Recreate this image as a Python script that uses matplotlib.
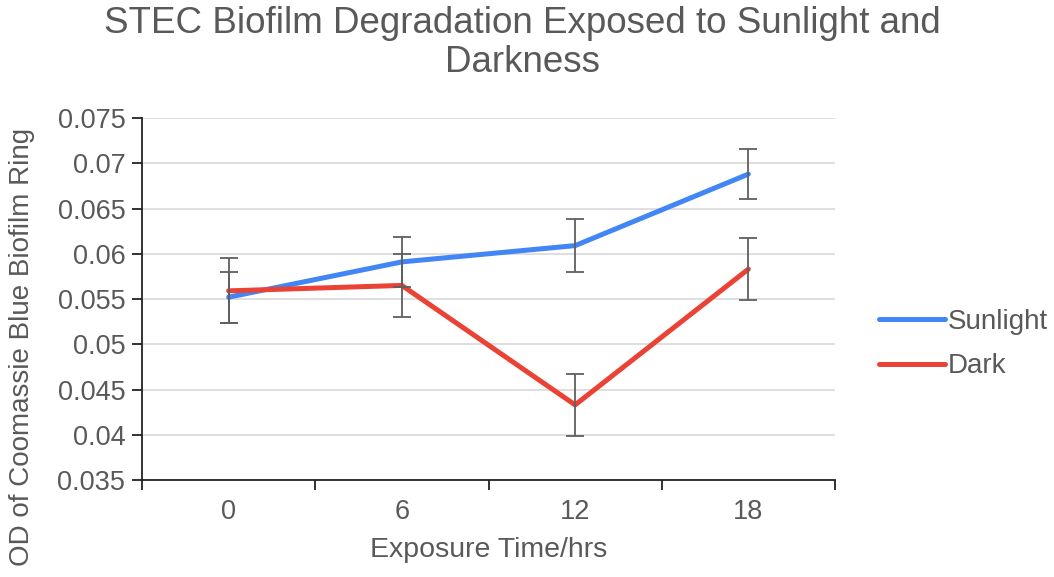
import numpy as np
import matplotlib
matplotlib.use("Agg")
import matplotlib.pyplot as plt
from matplotlib.ticker import FuncFormatter, FixedLocator

#-- DATA
hours = ["0", "6", "12", "18"]
sunlight = [0.0552, 0.0591, 0.0609, 0.0688]
sunlight_err = [0.0028, 0.0028, 0.0029, 0.0028]
dark = [0.0559, 0.0565, 0.0433, 0.0583]
dark_err = [0.0036, 0.0035, 0.0034, 0.0034]

plt.rcParams['font.family'] = ['Liberation Sans', 'DejaVu Sans']
grey = '#595959'

fig = plt.figure(figsize=(10.54, 5.77), dpi=100)
ax = fig.add_axes([142 / 1054, 1 - 480 / 577, (835 - 142) / 1054, (480 - 118) / 577])

x = np.arange(len(hours))
ax.plot(x, sunlight, color='#4285f4', lw=3.6, label='Sunlight', zorder=3, solid_capstyle='round')
ax.plot(x, dark, color='#ea4335', lw=3.6, label='Dark', zorder=3, solid_capstyle='round')
ax.errorbar(x, sunlight, yerr=sunlight_err, fmt='none', ecolor='#5f5f5f', elinewidth=1.3,
            capsize=6.5, capthick=1.3, zorder=4)
ax.errorbar(x, dark, yerr=dark_err, fmt='none', ecolor='#5f5f5f', elinewidth=1.3,
            capsize=6.5, capthick=1.3, zorder=4)

ax.set_xlim(-0.5, len(hours) - 0.5)
ax.set_ylim(0.035, 0.075)
ax.set_yticks(np.arange(0.035, 0.0751, 0.005))
ax.yaxis.set_major_formatter(FuncFormatter(lambda v, p: '%g' % round(v, 3)))
ax.set_xticks(x)
ax.set_xticklabels(hours)
ax.xaxis.set_minor_locator(FixedLocator(np.arange(-0.5, len(hours), 1.0)))

ax.grid(axis='y', color='#d9d9d9', lw=1.2)
ax.set_axisbelow(True)
for s in ['top', 'right']:
    ax.spines[s].set_visible(False)
for s in ['left', 'bottom']:
    ax.spines[s].set_color('#222222')
    ax.spines[s].set_linewidth(1.3)

ax.tick_params(axis='y', length=7, width=1.3, color='#222222', labelsize=19.5, labelcolor=grey, pad=5)
ax.tick_params(axis='x', which='major', length=0, labelsize=19.5, labelcolor=grey, pad=14)
ax.tick_params(axis='x', which='minor', length=7, width=1.3, color='#222222')

ax.set_xlabel('Exposure Time/hrs', fontsize=20.5, color=grey, labelpad=8)
fig.text(22 / 1054, 1 - 347 / 577, 'OD of Coomassie Blue Biofilm Ring', rotation=90,
         fontsize=20, color=grey, ha='center', va='center')

fig.text(522 / 1054, 1 - 6 / 577, 'STEC Biofilm Degradation Exposed to Sunlight and\nDarkness',
         fontsize=26.5, color=grey, ha='center', va='top', linespacing=1.15)

ax.legend(loc='center left', bbox_to_anchor=(1.063, 0.375), frameon=False, fontsize=20,
          labelcolor=grey, handlelength=2.4, handletextpad=0.1, labelspacing=0.65,
          borderpad=0, borderaxespad=0)

fig.savefig('out.png', dpi=100)
